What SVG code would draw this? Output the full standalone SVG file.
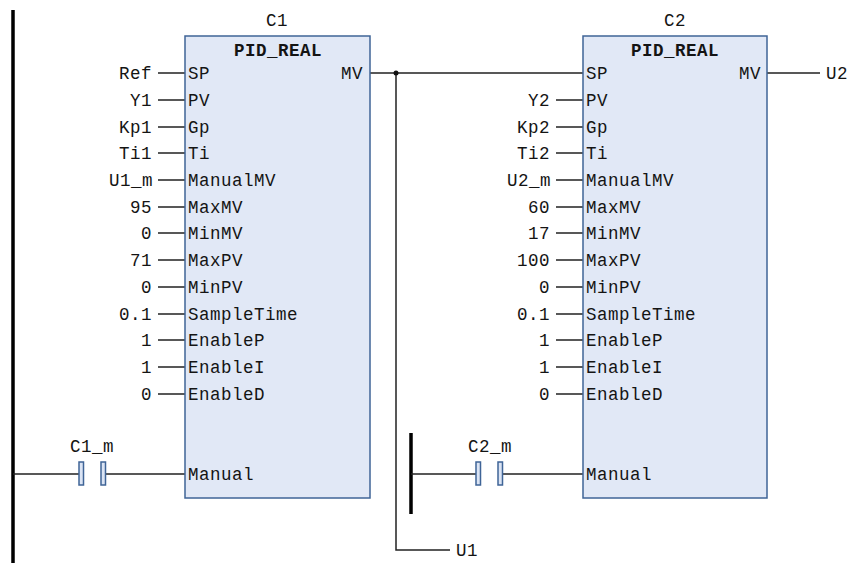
<svg xmlns="http://www.w3.org/2000/svg" width="848" height="563" viewBox="0 0 848 563">
<style>
text{font-family:"Liberation Mono","Courier New",monospace;font-size:17.5px;letter-spacing:.5px;fill:#141414}
.r{text-anchor:end}
.m{text-anchor:middle}
.b{font-weight:bold}
.block{fill:#e1e8f6;stroke:#3f6497;stroke-width:1.5}
.w{stroke:#222;stroke-width:1.5;fill:none}
.rail{stroke:#000;stroke-width:3.5;fill:none}
.c{fill:#dbe4f4;stroke:#3f6497;stroke-width:1.5}
</style>
<rect width="848" height="563" fill="#fff"/>
<g id="connectors">
<path class="rail" d="M13 10V563M411 433V514"/>
<path class="w" d="M158 73H185M158 100H185M158 127H185M158 153H185M158 180H185M158 207H185M158 233H185M158 260H185M158 287H185M158 314H185M158 340H185M158 367H185M158 394H185"/>
<path class="w" d="M556 100H583M556 127H583M556 153H583M556 180H583M556 207H583M556 233H583M556 260H583M556 287H583M556 314H583M556 340H583M556 367H583M556 394H583"/>
<path class="w" d="M370 73H583M396 73V550H450M767 73H820M13 474H79M106 474H185M411 474H477M503 474H583"/>
<circle cx="396" cy="73" r="2.5" fill="#111"/>
</g>
<g id="C1">
<rect class="block" x="185" y="36" width="185" height="462"/>
<text class="m" x="277" y="26">C1</text>
<text class="m b" x="278" y="56">PID_REAL</text>
<text class="r" x="363" y="79">MV</text>
<g>
<text x="188" y="79">SP</text><text x="188" y="106">PV</text><text x="188" y="133">Gp</text><text x="188" y="159">Ti</text><text x="188" y="186">ManualMV</text><text x="188" y="213">MaxMV</text><text x="188" y="239">MinMV</text><text x="188" y="266">MaxPV</text><text x="188" y="293">MinPV</text><text x="188" y="320">SampleTime</text><text x="188" y="346">EnableP</text><text x="188" y="373">EnableI</text><text x="188" y="400">EnableD</text><text x="188" y="480">Manual</text>
</g>
<g>
<text class="r" x="152" y="79">Ref</text><text class="r" x="152" y="106">Y1</text><text class="r" x="152" y="133">Kp1</text><text class="r" x="152" y="159">Ti1</text><text class="r" x="153" y="186">U1_m</text><text class="r" x="152" y="213">95</text><text class="r" x="152" y="239">0</text><text class="r" x="152" y="266">71</text><text class="r" x="152" y="293">0</text><text class="r" x="152" y="320">0.1</text><text class="r" x="152" y="346">1</text><text class="r" x="152" y="373">1</text><text class="r" x="152" y="400">0</text>
</g>
</g>
<g id="C2">
<rect class="block" x="583" y="36" width="184" height="462"/>
<text class="m" x="675" y="26">C2</text>
<text class="m b" x="675" y="56">PID_REAL</text>
<text class="r" x="761" y="79">MV</text>
<g>
<text x="586" y="79">SP</text><text x="586" y="106">PV</text><text x="586" y="133">Gp</text><text x="586" y="159">Ti</text><text x="586" y="186">ManualMV</text><text x="586" y="213">MaxMV</text><text x="586" y="239">MinMV</text><text x="586" y="266">MaxPV</text><text x="586" y="293">MinPV</text><text x="586" y="320">SampleTime</text><text x="586" y="346">EnableP</text><text x="586" y="373">EnableI</text><text x="586" y="400">EnableD</text><text x="586" y="480">Manual</text>
</g>
<g>
<text class="r" x="550" y="106">Y2</text><text class="r" x="550" y="133">Kp2</text><text class="r" x="550" y="159">Ti2</text><text class="r" x="551" y="186">U2_m</text><text class="r" x="550" y="213">60</text><text class="r" x="550" y="239">17</text><text class="r" x="550" y="266">100</text><text class="r" x="550" y="293">0</text><text class="r" x="550" y="320">0.1</text><text class="r" x="550" y="346">1</text><text class="r" x="550" y="373">1</text><text class="r" x="550" y="400">0</text>
</g>
</g>
<g id="C1_m">
<text class="m" x="92" y="452">C1_m</text>
<rect class="c" x="79" y="462" width="4.5" height="23"/>
<rect class="c" x="101" y="462" width="4.5" height="23"/>
</g>
<g id="C2_m">
<text class="m" x="490" y="452">C2_m</text>
<rect class="c" x="476" y="462" width="4.5" height="23"/>
<rect class="c" x="498" y="462" width="4.5" height="23"/>
</g>
<g id="U1"><text x="456" y="556">U1</text></g>
<g id="U2"><text x="826" y="79">U2</text></g>
</svg>
